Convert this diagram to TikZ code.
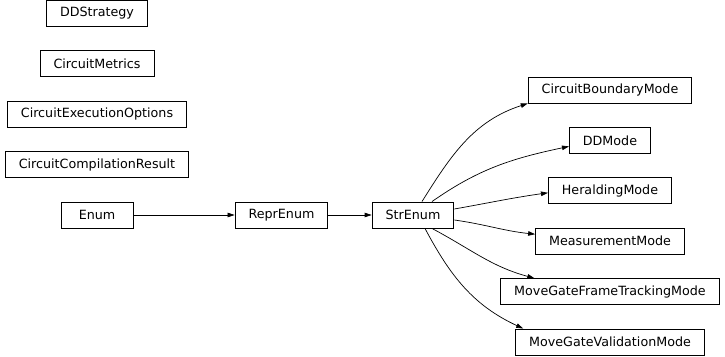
\documentclass[tikz,border=0pt]{standalone}
\usepackage{fontspec}
\setmainfont{DejaVu Sans}
\usetikzlibrary{positioning,arrows.meta}

\begin{document}
\begin{tikzpicture}[
    x=1pt, y=1pt,
    node distance=23.5pt and 48pt,
    cls/.style={draw, line width=0.9pt, minimum width=72pt, minimum height=26pt, inner xsep=13.5pt, inner ysep=0pt, font=\fontsize{12.7}{15}\selectfont},
    inherit/.style={-{Triangle[length=7pt, width=4.5pt]}, line width=0.7pt}
]
\useasboundingbox (0,0) rectangle (725,356);

\node[cls] (enum) at (97,141) {Enum};
\node[cls, above=of enum] (compres) {CircuitCompilationResult};
\node[cls, above=of compres] (execopt) {CircuitExecutionOptions};
\node[cls, above=of execopt] (metrics) {CircuitMetrics};
\node[cls, above=of metrics] (ddstrategy) {DDStrategy};

\node[cls] (reprenum) at (281.5,141) {ReprEnum};
\node[cls] (strenum) at (413,141) {StrEnum};

\node[cls] (boundary) at (610,266) {CircuitBoundaryMode};
\node[cls, below=of boundary] (ddmode) {DDMode};
\node[cls, below=of ddmode] (herald) {HeraldingMode};
\node[cls, below=of herald] (measure) {MeasurementMode};
\node[cls, below=of measure] (frametrack) {MoveGateFrameTrackingMode};
\node[cls, below=of frametrack] (validation) {MoveGateValidationMode};

\draw[inherit] (enum) -- (reprenum);
\draw[inherit] (reprenum) -- (strenum);

\draw[inherit] ([xshift=9pt]strenum.north) to[out=58, in=198] (boundary.south west);
\draw[inherit] ([xshift=19pt]strenum.north) to[out=35, in=192] ([yshift=-6pt]ddmode.west);
\draw[inherit] ([yshift=6pt]strenum.east) to[out=10, in=188] ([yshift=-2pt]herald.west);
\draw[inherit] ([yshift=-5pt]strenum.east) to[out=-8, in=174] ([yshift=7pt]measure.west);
\draw[inherit] ([xshift=19pt]strenum.south) to[out=-28, in=165] ([xshift=34pt]frametrack.north west);
\draw[inherit] ([xshift=12pt]strenum.south) to[out=-62, in=155] ([xshift=8pt]validation.north west);

\end{tikzpicture}
\end{document}
